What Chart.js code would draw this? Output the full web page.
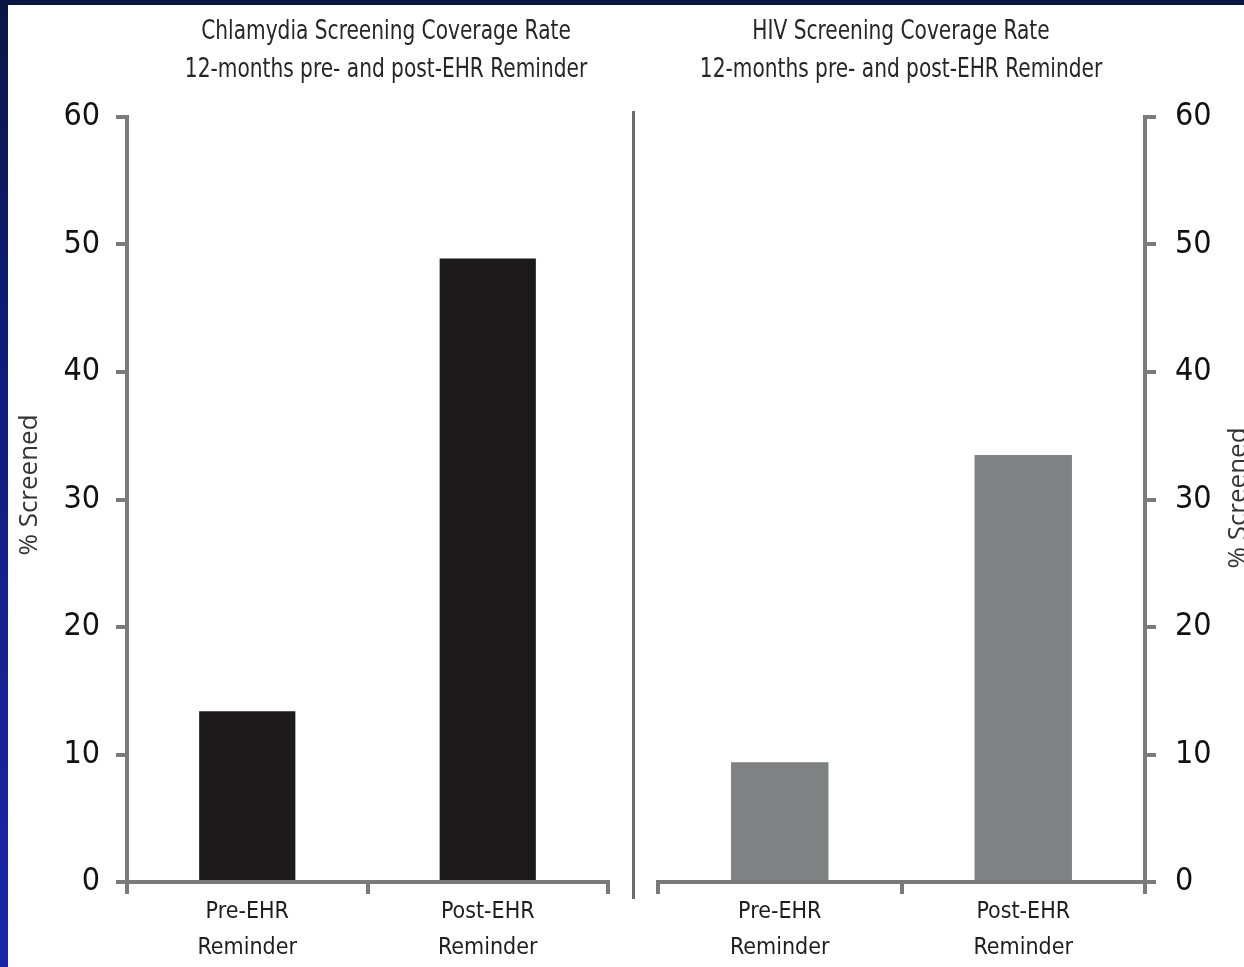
<!DOCTYPE html>
<html>
<head>
<meta charset="utf-8">
<script src="https://cdn.jsdelivr.net/npm/chart.js@4.4.1/dist/chart.umd.min.js"></script>
<style>
  html, body { margin: 0; padding: 0; }
  body {
    width: 1244px; height: 967px; overflow: hidden; position: relative;
    background: linear-gradient(180deg, #0a1545 0%, #0e1c78 35%, #1a27a8 100%);
  }
  #panel { position: absolute; left: 8px; top: 5px; right: 0; bottom: 0; background: #fff; }
  #divider { position: absolute; left: 632px; top: 111px; width: 3px; height: 788px; background: #6c6c6c; }
  canvas { position: absolute; top: 0; }
  #left { left: 0; width: 640px; height: 967px; }
  #right { left: 640px; width: 604px; height: 967px; }
</style>
</head>
<body>
<div id="panel"></div>
<div id="divider"></div>
<canvas id="left" width="640" height="967"></canvas>
<canvas id="right" width="604" height="967"></canvas>
<script>
// Categories and screening rates (% screened)
const categories = [["Pre-EHR", "Reminder"], ["Post-EHR", "Reminder"]];
const chlamydiaValues = [13.4, 48.9];
const hivValues = [9.4, 33.5];
const yTickValues = [0, 10, 20, 30, 40, 50, 60];
const chlamydiaTitle = ["Chlamydia Screening Coverage Rate", "12-months pre- and post-EHR Reminder"];
const hivTitle = ["HIV Screening Coverage Rate", "12-months pre- and post-EHR Reminder"];
const yAxisLabel = "% Screened";

const NARROW = "'Liberation Sans Narrow', 'DejaVu Sans Condensed', 'Liberation Sans', sans-serif";
const AXIS = '#7a7a7a';

// Two-line panel heading drawn at a chosen centre, slightly condensed
const panelTitle = {
  id: 'panelTitle',
  afterDraw(chart, args, opts) {
    const ctx = chart.ctx;
    ctx.save();
    ctx.translate(opts.x, opts.y);
    ctx.scale(opts.squeeze, 1);
    ctx.fillStyle = opts.color;
    ctx.font = opts.size + 'px ' + NARROW;
    ctx.textAlign = 'center';
    ctx.textBaseline = 'middle';
    opts.lines.forEach((t, i) => ctx.fillText(t, 0, i * opts.spacing));
    ctx.restore();
  }
};

// Rotated side label next to a value axis
const sideLabel = {
  id: 'sideLabel',
  afterDraw(chart, args, opts) {
    if (!opts.text) return;
    const ctx = chart.ctx;
    ctx.save();
    ctx.translate(opts.x, opts.y);
    ctx.rotate(-Math.PI / 2);
    ctx.fillStyle = opts.color;
    ctx.font = opts.size + "px 'Open Sans', sans-serif";
    ctx.textAlign = 'center';
    ctx.textBaseline = 'middle';
    ctx.fillText(opts.text, 0, 0);
    ctx.restore();
  }
};

function xScale() {
  return {
    offset: true,
    grid: { offset: true, drawOnChartArea: false, drawTicks: true, tickLength: 12, lineWidth: 4, color: AXIS },
    border: { display: true, width: 4, color: AXIS },
    ticks: { font: { family: NARROW, size: 23, lineHeight: 1.565 }, color: '#1e1e1e', padding: 0, maxRotation: 0, autoSkip: false },
    afterFit(s) { s.height = 85; }
  };
}

function yScale(pos, width, pad) {
  return {
    position: pos,
    min: 0, max: 60,
    afterBuildTicks(s) { s.ticks = yTickValues.map(v => ({ value: v })); },
    grid: { drawOnChartArea: false, drawTicks: true, tickLength: 11, lineWidth: 4, color: AXIS },
    border: { display: true, width: 4, color: AXIS },
    ticks: { font: { family: NARROW, size: 32 }, color: '#111', padding: pad },
    afterFit(s) { s.width = width; }
  };
}

const common = {
  responsive: false,
  animation: false,
  devicePixelRatio: 1,
  events: []
};

new Chart(document.getElementById('left'), {
  type: 'bar',
  data: {
    labels: categories,
    datasets: [{ data: chlamydiaValues, backgroundColor: '#1c1a1b', barPercentage: 0.4, categoryPercentage: 1 }]
  },
  options: Object.assign({}, common, {
    layout: { padding: { top: 117, bottom: 0, left: 0, right: 32 } },
    plugins: {
      legend: { display: false }, tooltip: { enabled: false },
      panelTitle: { lines: chlamydiaTitle, x: 386, y: 32, spacing: 38, size: 27, squeeze: 0.83, color: '#262626' },
      sideLabel: { text: yAxisLabel, x: 30, y: 485, size: 26, color: '#333' }
    },
    scales: {
      x: xScale(),
      y: yScale('left', 127, 16)
    }
  }),
  plugins: [panelTitle, sideLabel]
});

new Chart(document.getElementById('right'), {
  type: 'bar',
  data: {
    labels: categories,
    datasets: [{ data: hivValues, backgroundColor: '#808183', barPercentage: 0.4, categoryPercentage: 1 }]
  },
  options: Object.assign({}, common, {
    layout: { padding: { top: 117, bottom: 0, left: 18, right: 0 } },
    plugins: {
      legend: { display: false }, tooltip: { enabled: false },
      panelTitle: { lines: hivTitle, x: 261, y: 32, spacing: 38, size: 27, squeeze: 0.83, color: '#262626' },
      sideLabel: { text: yAxisLabel, x: 599, y: 498, size: 26, color: '#333' }
    },
    scales: {
      x: xScale(),
      y: yScale('right', 99, 19)
    }
  }),
  plugins: [panelTitle, sideLabel]
});
</script>
</body>
</html>
